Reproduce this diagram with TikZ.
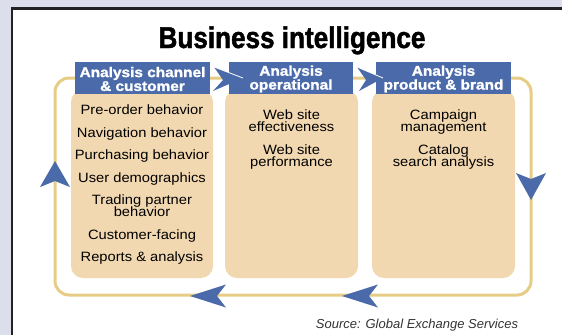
\documentclass[tikz,border=0pt]{standalone}
\usepackage{fontspec}
\setmainfont{Liberation Sans}
\newfontfamily\titlefont{Liberation Sans}[FakeStretch=0.87,FakeBold=1.6]
\newfontfamily\hdfont{Liberation Sans}[FakeStretch=1.1,FakeBold=1.4]
\newfontfamily\itemfont{Liberation Sans}[FakeStretch=1.09]
\definecolor{bgc}{HTML}{DCDEEC}
\definecolor{framec}{HTML}{222222}
\definecolor{hdblue}{HTML}{4A6AAA}
\definecolor{tanc}{HTML}{F2D8B0}
\definecolor{loopc}{HTML}{E6CC84}
\AtBeginDocument{\lineskiplimit=-20pt\relax}
\begin{document}
\begin{tikzpicture}[x=1pt,y=-1pt,
  header/.style={fill=hdblue,inner sep=0pt,minimum height=32pt,text=white,align=center,
     font=\hdfont\bfseries\fontsize{14}{13.8}\selectfont},
  bodybox/.style={fill=tanc,rounded corners=12pt,inner sep=0pt},
  itemtext/.style={align=center,inner sep=0pt,anchor=north,
     font=\itemfont\fontsize{13.5}{12}\selectfont},
  pics/loophead/.style n args={3}{code={\fill[hdblue] (0,0) -- (-#1,#2) -- (-#1+#3,0) -- (-#1,-#2) -- cycle;}}
]
\useasboundingbox (0,0) rectangle (562,335);
\fill[bgc] (0,0) rectangle (562,335);
\fill[white] (12,9) rectangle (562,335);
\draw[framec,line width=2.6pt] (12,335) -- (12,8.7) -- (562,8.7);

% title
\node[inner sep=0pt,anchor=base] (title) at (292,48) {\titlefont\bfseries\fontsize{30}{30}\selectfont Business intelligence};

% loop
\draw[loopc,line width=3pt,rounded corners=14pt] (55,78) rectangle (531,295);

% body boxes
\node[bodybox,minimum width=142pt,minimum height=188pt] (b1) at (142,184) {};
\node[bodybox,minimum width=133pt,minimum height=188pt] (b2) at (291.5,184) {};
\node[bodybox,minimum width=143pt,minimum height=188pt] (b3) at (443.5,184) {};

% headers
\node[header,minimum width=135pt] (h1) at (142.5,78) {};
\node[header,minimum width=124pt] (h2) at (291,78) {};
\node[header,minimum width=135pt] (h3) at (443.5,78) {};

% header arrows
\fill[hdblue] (243,78) -- (214,67) -- (223,80) -- (213,91) -- cycle;
\draw[white,line width=0.8pt] (214,67) -- (243,78);
\fill[hdblue] (383,78) -- (357,67) -- (366,80) -- (359,91) -- cycle;
\draw[white,line width=0.8pt] (357,67) -- (383,78);

% header texts
\node[header,fill=none,minimum width=135pt] (h1t) at (142.5,79) {Analysis channel\\\& customer};
\node[header,fill=none,minimum width=124pt] (h2t) at (291,79) {Analysis\\operational};
\node[header,fill=none,minimum width=135pt] (h3t) at (443.5,79) {Analysis\\product \& brand};

% loop arrowheads
\pic[rotate=90] at (55,161) {loophead={26}{15}{6}};
\pic[rotate=-90] at (531,200) {loophead={27}{15}{6}};
\pic[rotate=180] at (342,296) {loophead={36}{11.5}{9}};
\pic[rotate=180] at (190,296) {loophead={36}{11.5}{9}};

% body texts
\node[itemtext] (t1) at (142,105) {Pre-order behavior\\[10.5pt]Navigation behavior\\[10.5pt]Purchasing behavior\\[10.5pt]User demographics\\[10.5pt]Trading partner\\behavior\\[10.5pt]Customer-facing\\[10.5pt]Reports \& analysis};
\node[itemtext] (t2) at (291.5,110) {Web site\\effectiveness\\[11pt]Web site\\performance};
\node[itemtext] (t3) at (443.5,110) {Campaign\\management\\[11pt]Catalog\\search analysis};

% source
\node[inner sep=0pt,anchor=base,text=black!80,font=\itshape\fontsize{13}{13}\selectfont] (src) at (417,328) {Source: Global Exchange Services};
\end{tikzpicture}
\end{document}
